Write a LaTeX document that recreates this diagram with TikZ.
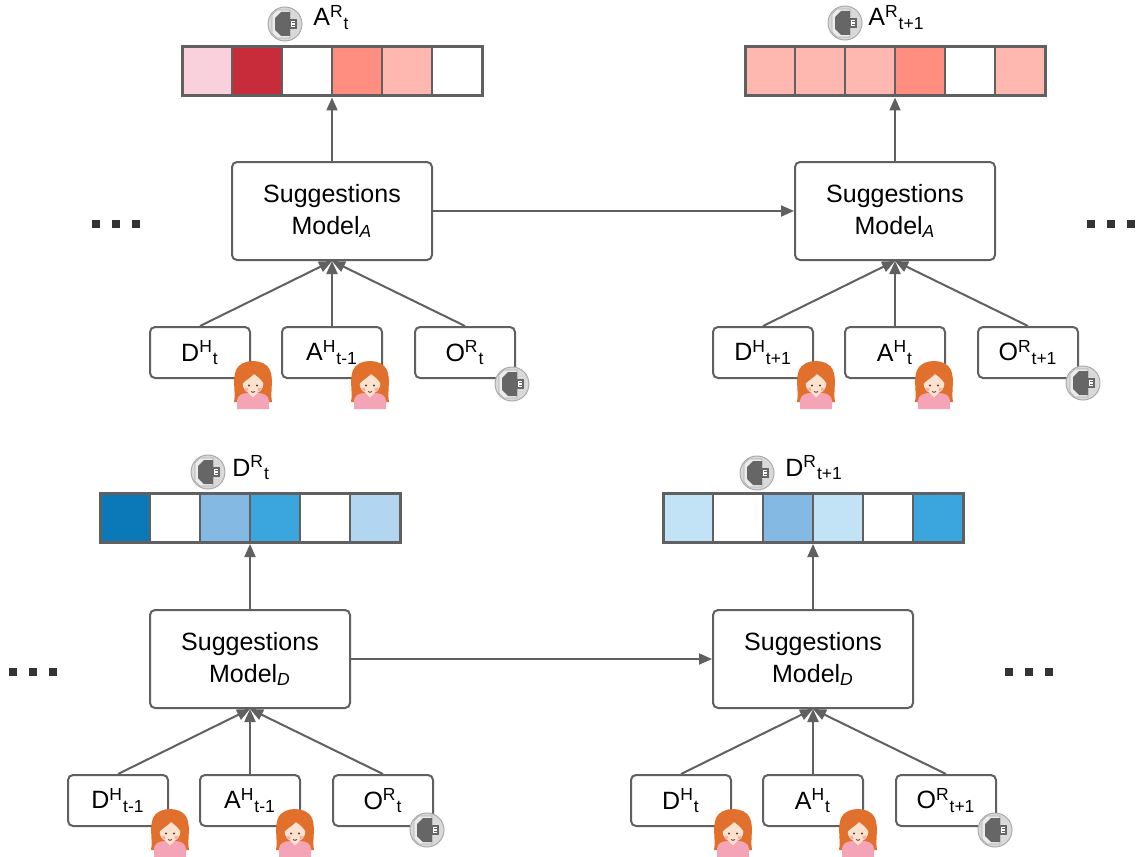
\documentclass[tikz,border=0pt]{standalone}
\usepackage{fontspec}
\setmainfont{Liberation Sans}
\usetikzlibrary{arrows.meta}

% palette
\definecolor{edge}{HTML}{606060}
\definecolor{dotcol}{HTML}{333333}
\definecolor{rPink}{HTML}{F8D1DD}
\definecolor{rDeep}{HTML}{C82C3A}
\definecolor{rSalmon}{HTML}{FF8E80}
\definecolor{rLight}{HTML}{FFB8AF}
\definecolor{bDeep}{HTML}{0B78B8}
\definecolor{bMid}{HTML}{3BA5DD}
\definecolor{bSoft}{HTML}{83B9E3}
\definecolor{bPale}{HTML}{B3D6F0}
\definecolor{bIce}{HTML}{C2E3F6}
\definecolor{hair}{HTML}{E0702C}
\definecolor{skin}{HTML}{FDE3CF}
\definecolor{shirt}{HTML}{F5A3B7}
\definecolor{cheek}{HTML}{F7B3A8}
\definecolor{eyecol}{HTML}{5A3A2A}
\definecolor{robotbg}{HTML}{D9D9D9}
\definecolor{robotrim}{HTML}{ABABAB}
\definecolor{robotlight}{HTML}{ECECEC}
\definecolor{robotdark}{HTML}{666666}

\tikzset{
  txt/.style={font=\fontsize{12.5}{16}\selectfont},
  box/.style={txt, draw=edge, line width=1pt, rounded corners=2.5pt,
    fill=white, align=center, inner sep=0pt},
  model/.style={box, minimum width=100pt, minimum height=49pt},
  inbox/.style={box, minimum width=50pt, minimum height=25.5pt},
  cell/.style={draw=edge, line width=1pt, minimum width=25pt,
    minimum height=24.5pt, inner sep=0pt},
  barframe/.style={draw=edge, line width=1.5pt, minimum width=150pt,
    minimum height=24.5pt, inner sep=0pt},
  link/.style={draw=edge, line width=1pt,
    -{Triangle[length=6.5pt,width=5.5pt]}},
  dotsq/.style={fill=dotcol, minimum size=4pt, inner sep=0pt},
  lbl/.style={txt, inner sep=0pt, anchor=base west},
  girl/.pic={
    \fill[hair] (-19,18) .. controls (-17,8) and (-21,-4) .. (-17,-14)
      .. controls (-12,-26) and (12,-26) .. (17,-14)
      .. controls (21,-4) and (17,8) .. (19,18) -- cycle;
    \fill[shirt] (-16,25) -- (-16,17) .. controls (-16,11) and (-10,9) .. (-5,9)
      -- (5,9) .. controls (10,9) and (16,11) .. (16,17) -- (16,25) -- cycle;
    \fill[skin] (-3.5,3) rectangle (3.5,10);
    \fill[skin] (-4.5,9) -- (0,13.5) -- (4.5,9) -- cycle;
    \fill[skin] (0,-1) ellipse [x radius=10.5, y radius=11];
    \fill[hair] (-11,0) .. controls (-12,-13) and (-5,-17.5) .. (1,-17)
      .. controls (8,-16.5) and (12,-10) .. (11,0)
      .. controls (8,-5) and (4,-8) .. (1,-10)
      .. controls (-3,-6) and (-7,-4) .. (-11,0) -- cycle;
    \fill[eyecol] (-4,1.5) circle (1.1) (4,1.5) circle (1.1);
    \fill[cheek] (-6.5,5.5) circle (2) (6.5,5.5) circle (2);
    \draw[eyecol, line width=0.4pt] (-2,7.5) .. controls (-1,8.6) and (1,8.6) .. (2,7.5);
  },
  robot/.pic={
    \fill[robotbg, draw=robotrim, line width=0.5pt] (0,0) circle (17);
    \fill[robotlight, draw=robotrim, line width=0.3pt]
      (-8,-14) -- (5,-14) -- (5,14) -- (-8,14) -- (-13,9) -- (-13,-9) -- cycle;
    \fill[robotdark] (-4,-12) -- (5,-12) -- (5,12) -- (-4,12) -- (-10,6) -- (-10,-6) -- cycle;
    \fill[white, draw=robotdark, line width=0.6pt] (5,-4) rectangle (11,4);
    \draw[robotdark, line width=0.6pt] (7,-1.4) -- (11,-1.4) (7,1.4) -- (11,1.4);
  },
}

% a row of six coloured score cells with a frame around them
\newcommand\scorebar[4]{%
  \foreach \c [count=\i] in {#4}{%
    \node[cell, fill=\c] (#1-\i) at ({#2+(\i-3.5)*50},#3) {};
  }%
  \node[barframe] (#1) at (#2,#3) {};
}

\begin{document}
\begin{tikzpicture}[x=0.5pt,y=-0.5pt]
\useasboundingbox (0,0) rectangle (1139,856);

% ---------- score bars ----------
\scorebar{barTL}{332}{71.5}{rPink,rDeep,white,rSalmon,rLight,white}
\scorebar{barTR}{895}{71.5}{rLight,rLight,rLight,rSalmon,white,rLight}
\scorebar{barBL}{250}{518}{bDeep,white,bSoft,bMid,white,bPale}
\scorebar{barBR}{813}{518}{bIce,white,bSoft,bIce,white,bMid}

\pic at (285,24) {robot};
\node[lbl] (labTL) at (313,26) {A\textsuperscript{R}\textsubscript{t}};
\pic at (845,23) {robot};
\node[lbl] (labTR) at (868,26) {A\textsuperscript{R}\textsubscript{t+1}};
\pic at (208,472) {robot};
\node[lbl] (labBL) at (232,476) {D\textsuperscript{R}\textsubscript{t}};
\pic at (757,473) {robot};
\node[lbl] (labBR) at (785,476) {D\textsuperscript{R}\textsubscript{t+1}};

% ---------- models ----------
\node[model] (mTL) at (332,211) {Suggestions\\Model\textsubscript{\textit{A}}};
\node[model] (mTR) at (895,211) {Suggestions\\Model\textsubscript{\textit{A}}};
\node[model] (mBL) at (250,659) {Suggestions\\Model\textsubscript{\textit{D}}};
\node[model] (mBR) at (813,659) {Suggestions\\Model\textsubscript{\textit{D}}};

% ---------- inputs ----------
\node[inbox] (iTL1) at (200,352.5) {D\textsuperscript{H}\textsubscript{t}};
\node[inbox] (iTL2) at (332,352.5) {A\textsuperscript{H}\textsubscript{t-1}};
\node[inbox] (iTL3) at (465,352.5) {O\textsuperscript{R}\textsubscript{t}};
\node[inbox] (iTR1) at (763,352.5) {D\textsuperscript{H}\textsubscript{t+1}};
\node[inbox] (iTR2) at (895,352.5) {A\textsuperscript{H}\textsubscript{t}};
\node[inbox] (iTR3) at (1028,352.5) {O\textsuperscript{R}\textsubscript{t+1}};
\node[inbox] (iBL1) at (118,800.5) {D\textsuperscript{H}\textsubscript{t-1}};
\node[inbox] (iBL2) at (250,800.5) {A\textsuperscript{H}\textsubscript{t-1}};
\node[inbox] (iBL3) at (383,800.5) {O\textsuperscript{R}\textsubscript{t}};
\node[inbox] (iBR1) at (681,800.5) {D\textsuperscript{H}\textsubscript{t}};
\node[inbox] (iBR2) at (813,800.5) {A\textsuperscript{H}\textsubscript{t}};
\node[inbox] (iBR3) at (946,800.5) {O\textsuperscript{R}\textsubscript{t+1}};

% ---------- icons on the inputs ----------
\pic at (253,384) {girl};
\pic at (370,384) {girl};
\pic at (512,384) {robot};
\pic at (816,384) {girl};
\pic at (934,384) {girl};
\pic at (1083,383) {robot};
\pic at (170,832) {girl};
\pic at (295,832) {girl};
\pic at (427,830) {robot};
\pic at (733,832) {girl};
\pic at (858,832) {girl};
\pic at (995,830) {robot};

% ---------- connectors ----------
\foreach \m/\b in {mTL/barTL, mTR/barTR, mBL/barBL, mBR/barBR}
  \draw[link] (\m.north) -- (\b.south);
\foreach \i/\m in {iTL/mTL, iTR/mTR, iBL/mBL, iBR/mBR}
  \foreach \k in {1,2,3}
    \draw[link] (\i\k.north) -- (\m.south);
\draw[link] (mTL.east) -- (mTR.west);
\draw[link] (mBL.east) -- (mBR.west);

% ---------- ellipses ----------
\foreach \n/\x/\y in {dTL/96/224, dTR/1091/224, dBL/13/672, dBR/1009/672}
  \foreach \k in {0,1,2}
    \node[dotsq] (\n\k) at (\x+\k*20,\y) {};

\end{tikzpicture}
\end{document}
